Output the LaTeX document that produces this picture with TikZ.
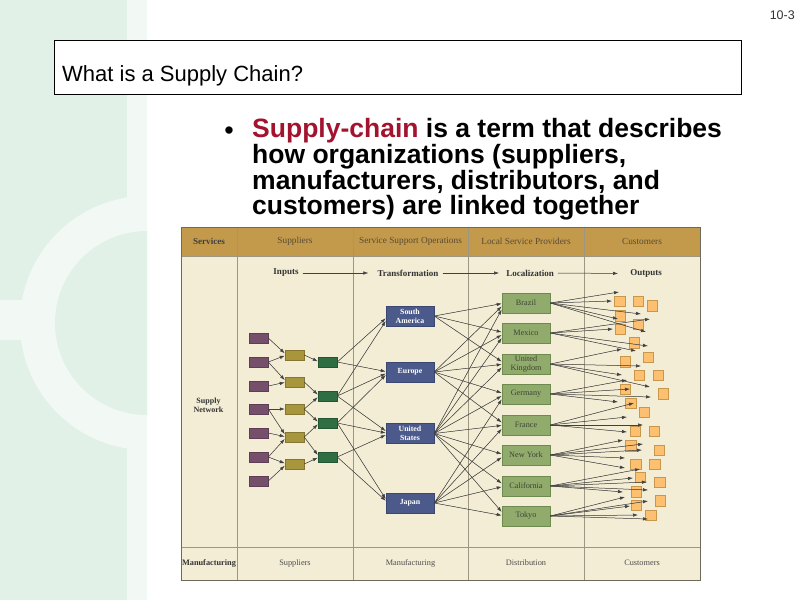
\documentclass[tikz,border=0pt]{standalone}
\usepackage{fontspec}
\setmainfont{Liberation Sans}
\newfontfamily\dfont{Liberation Serif}
\usetikzlibrary{arrows.meta,calc}
\definecolor{bgA}{HTML}{E2F1E8}
\definecolor{bgB}{HTML}{F2F9F5}
\definecolor{redT}{HTML}{A3132E}
\definecolor{gold}{HTML}{C39A4B}
\definecolor{cream}{HTML}{F3EDD5}
\definecolor{gridC}{HTML}{9C9682}
\definecolor{hdrT}{HTML}{5A4A32}
\definecolor{purpF}{HTML}{76506A}
\definecolor{purpB}{HTML}{5E3E54}
\definecolor{oliveF}{HTML}{A8963C}
\definecolor{oliveB}{HTML}{857530}
\definecolor{greenF}{HTML}{2F6E42}
\definecolor{greenB}{HTML}{245633}
\definecolor{blueF}{HTML}{4B5A8B}
\definecolor{blueB}{HTML}{3A4770}
\definecolor{locF}{HTML}{91AB6C}
\definecolor{locB}{HTML}{6F8A4F}
\definecolor{locT}{HTML}{3E4436}
\definecolor{orF}{HTML}{FDBF70}
\definecolor{orB}{HTML}{C9974C}
\definecolor{arrC}{HTML}{404040}
\newcommand\lnk[3]{\draw[arr] (#1.east) -- ($(#2.west)+(0,#3)$);}
\begin{document}
\begin{tikzpicture}[x=1pt,y=-1pt,
  smallbox/.style={minimum width=19pt,minimum height=10pt,inner sep=0pt,line width=0.5pt},
  pbox/.style={smallbox,fill=purpF,draw=purpB},
  obox/.style={smallbox,fill=oliveF,draw=oliveB},
  gbox/.style={smallbox,fill=greenF,draw=greenB},
  bbox/.style={fill=blueF,draw=blueB,line width=0.5pt,minimum width=48pt,minimum height=20pt,inner sep=0pt,text=white,align=center,font=\dfont\bfseries\fontsize{7.8}{8.8}\selectfont},
  lbox/.style={fill=locF,draw=locB,line width=0.6pt,minimum width=48pt,minimum height=20pt,inner sep=0pt,text=locT,align=center,font=\dfont\fontsize{8.2}{9.2}\selectfont},
  cust/.style={fill=orF,draw=orB,line width=0.5pt,minimum size=10.5pt,inner sep=0pt},
  arr/.style={-{Latex[length=5pt,width=3.4pt]},draw=arrC,fill=arrC,line width=0.5pt},
  hdr/.style={font=\dfont\fontsize{9.3}{10}\selectfont,text=hdrT,inner sep=0pt},
  flow/.style={font=\dfont\bfseries\fontsize{9}{10}\selectfont,text=black!80,inner sep=0pt},
  foot/.style={font=\dfont\fontsize{8.3}{9}\selectfont,text=black!70,inner sep=0pt},
  bulline/.style={anchor=base west,inner sep=0pt,font=\bfseries\fontsize{26.5}{26}\selectfont}
]
\useasboundingbox (0,0) rectangle (800,600);
\fill[white] (0,0) rectangle (800,600);
% background decoration
\fill[bgA] (0,0) rectangle (127,600);
\fill[bgB] (127,0) rectangle (147,600);
\fill[bgB] (0,300) rectangle (30,340);
\begin{scope}
  \clip (0,0) rectangle (147,600);
  \fill[bgB] (147,323) circle (127pt);
  \fill[bgA] (147,323) circle (92pt);
\end{scope}
% title
\node[draw=black,fill=white,line width=0.8pt,minimum width=687pt,minimum height=54pt,inner sep=0pt] (titlebox) at (397.5,67) {};
\node[anchor=base west,inner sep=0pt,font=\fontsize{22}{26}\selectfont] (title) at (62,81) {What is a Supply Chain?};
\node[anchor=base east,inner sep=0pt,font=\fontsize{12.5}{14}\selectfont,text=black!80] (num) at (795,19) {10-3};
% bullet
\node[anchor=base,inner sep=0pt,font=\fontsize{27}{27}\selectfont] (dot) at (229,139) {•};
\node[bulline] (l1) at (252,137) {\textcolor{redT}{Supply-chain} is a term that describes};
\node[bulline] (l2) at (252,163) {how organizations (suppliers,};
\node[bulline] (l3) at (252,189) {manufacturers, distributors, and};
\node[bulline] (l4) at (252,214.5) {customers) are linked together};
% diagram frame
\fill[cream] (181,227) rectangle (700,580);
\fill[gold] (181,227) rectangle (700,256);
\draw[gridC,line width=0.6pt] (181,256) -- (700,256);
\draw[gridC,line width=0.9pt] (181,547) -- (700,547);
\foreach \x in {237,353,468,584} \draw[gridC,line width=0.8pt] (\x,227) -- (\x,580);
\draw[gridC!70!black,line width=0.9pt] (181,227) rectangle (700,580);
% header labels
\node[hdr,font=\dfont\bfseries\fontsize{9.1}{10}\selectfont,text=black!75] (hServ) at (209,241.5) {Services};
\node[hdr] (hSup) at (295,241.5) {Suppliers};
\node[hdr] (hSSO) at (410.5,241.5) {Service Support Operations};
\node[hdr] (hLSP) at (526,241.5) {Local Service Providers};
\node[hdr] (hCus) at (642,241.5) {Customers};
% flow row
\node[flow] (inp) at (286,273) {Inputs};
\node[flow] (trf) at (408,273) {Transformation};
\node[flow] (loc) at (530,273) {Localization};
\node[flow] (out) at (646,273.5) {Outputs};
\draw[arr,shorten <=4pt,shorten >=9pt] (inp.east) -- (trf.west);
\draw[arr,shorten <=4pt,shorten >=7pt] (trf.east) -- (loc.west);
\draw[arr,shorten <=4pt,shorten >=12pt] (loc.east) -- (out.west);
% footer
\node[foot,font=\dfont\bfseries\fontsize{8.3}{9}\selectfont,text=black!80] (fMan) at (209,563) {Manufacturing};
\node[foot] (fSup) at (295,563) {Suppliers};
\node[foot] (fMfg) at (410.5,563) {Manufacturing};
\node[foot] (fDis) at (526,563) {Distribution};
\node[foot] (fCus) at (642,563) {Customers};
\node[align=center,inner sep=0pt,font=\dfont\bfseries\fontsize{8}{8.6}\selectfont,text=black!80] (net) at (208.5,405) {Supply\\Network};
% purple suppliers
\foreach \i/\y in {1/338,2/362,3/386,4/409,5/433,6/457,7/481}
  \node[pbox] (p\i) at (258.5,\y) {};
\foreach \i/\y in {1/355,2/382,3/409,4/437,5/464}
  \node[obox] (o\i) at (294.5,\y) {};
\foreach \i/\y in {1/362,2/396,3/423,4/457}
  \node[gbox] (g\i) at (327.5,\y) {};
% blue
\node[bbox] (sa) at (410,316) {South\\America};
\node[bbox] (eu) at (410,372) {Europe};
\node[bbox] (us) at (410,433.5) {United\\States};
\node[bbox] (jp) at (410,503) {Japan};
% locations
\node[lbox] (bz) at (526,303) {Brazil};
\node[lbox] (mx) at (526,333) {Mexico};
\node[lbox] (uk) at (526,364) {United\\Kingdom};
\node[lbox] (de) at (526,394) {Germany};
\node[lbox] (fr) at (526,425) {France};
\node[lbox] (ny) at (526,455) {New York};
\node[lbox] (ca) at (526,486) {California};
\node[lbox] (tk) at (526,516) {Tokyo};
% customers
\foreach \i/\x/\y in {1/619.5/301,2/638/301,3/652/305.5,4/620/315.5,5/638/324,6/620/329,
  7/634/342.5,8/648/357,9/625/361.5,10/639/375,11/658/375,12/625/389,13/663/393.5,
  14/630.5/403,15/644.3/412,16/635/431,17/654/431,18/630.7/445.5,19/659/450,
  20/635.5/464,21/654.5/464,22/640.3/477.3,23/659.7/482,24/636.3/491.5,
  25/636.3/505.3,26/660.3/500.5,27/650.5/515}
  \node[cust] (c\i) at (\x,\y) {};
% links purple -> olive
\lnk{p1}{o1}{-1.7}\lnk{p2}{o1}{0.7}\lnk{p2}{o2}{-2}\lnk{p3}{o2}{0.4}
\lnk{p4}{o3}{0}\lnk{p4}{o4}{-2.8}\lnk{p5}{o4}{-0.4}\lnk{p6}{o4}{2}
\lnk{p6}{o5}{-0.7}\lnk{p7}{o5}{1.7}
% olive -> green
\lnk{o1}{g1}{-0.7}\lnk{o2}{g2}{-1.4}\lnk{o3}{g2}{1.3}\lnk{o3}{g3}{-1.4}
\lnk{o4}{g3}{1.4}\lnk{o4}{g4}{-2}\lnk{o5}{g4}{0.7}
% green -> blue
\lnk{g1}{sa}{2.3}\lnk{g1}{eu}{-0.5}
\lnk{g2}{sa}{5}\lnk{g2}{eu}{1.5}\lnk{g2}{us}{-2.5}
\lnk{g3}{eu}{3}\lnk{g3}{us}{-0.5}\lnk{g3}{jp}{-4}
\lnk{g4}{us}{1.5}\lnk{g4}{jp}{-2.3}
% blue -> locations
\lnk{sa}{bz}{0.6}\lnk{sa}{mx}{-0.9}\lnk{sa}{uk}{-2.4}
\lnk{eu}{bz}{3.4}\lnk{eu}{mx}{2}\lnk{eu}{uk}{0.4}\lnk{eu}{de}{-1.1}\lnk{eu}{fr}{-2.6}
\lnk{us}{bz}{6.5}\lnk{us}{mx}{5}\lnk{us}{uk}{3.5}\lnk{us}{de}{2}\lnk{us}{fr}{0.4}
\lnk{us}{ny}{-1}\lnk{us}{ca}{-2.6}\lnk{us}{tk}{-4.1}
\lnk{jp}{de}{5.4}\lnk{jp}{fr}{3.9}\lnk{jp}{ny}{2.4}\lnk{jp}{ca}{0.8}\lnk{jp}{tk}{-0.6}
% fan tips
\foreach \n/\x/\y in {bz1/619/292,bz2/612/301,bz3/641/314,bz4/618/319,bz5/646/332,
  mx1/650/319,mx2/613/329,mx3/648/346,mx4/636/351,
  uk1/622/349,uk2/641/366,uk3/622/375,uk4/650/387,
  de1/627/380,de2/630/389,de3/651/397,de4/618/402,
  fr1/634/403,fr2/627/417,fr3/643/425,fr4/627/432,
  ny1/623/440,ny2/643/444,ny3/642/450,ny4/625/458,ny5/625/468,
  ca1/640/469,ca2/633/478,ca3/647/482,ca4/648/490,ca5/623/492,
  tk1/625/497,tk2/648/501,tk3/630/506,tk4/638/515,tk5/648/519}
  \coordinate (\n) at (\x,\y);
\foreach \s/\k in {bz/5,mx/4,uk/4,de/4,fr/4,ny/5,ca/5,tk/5}
  \foreach \i in {1,...,\k} \draw[arr] (\s.east) -- (\s\i);
\end{tikzpicture}
\end{document}
